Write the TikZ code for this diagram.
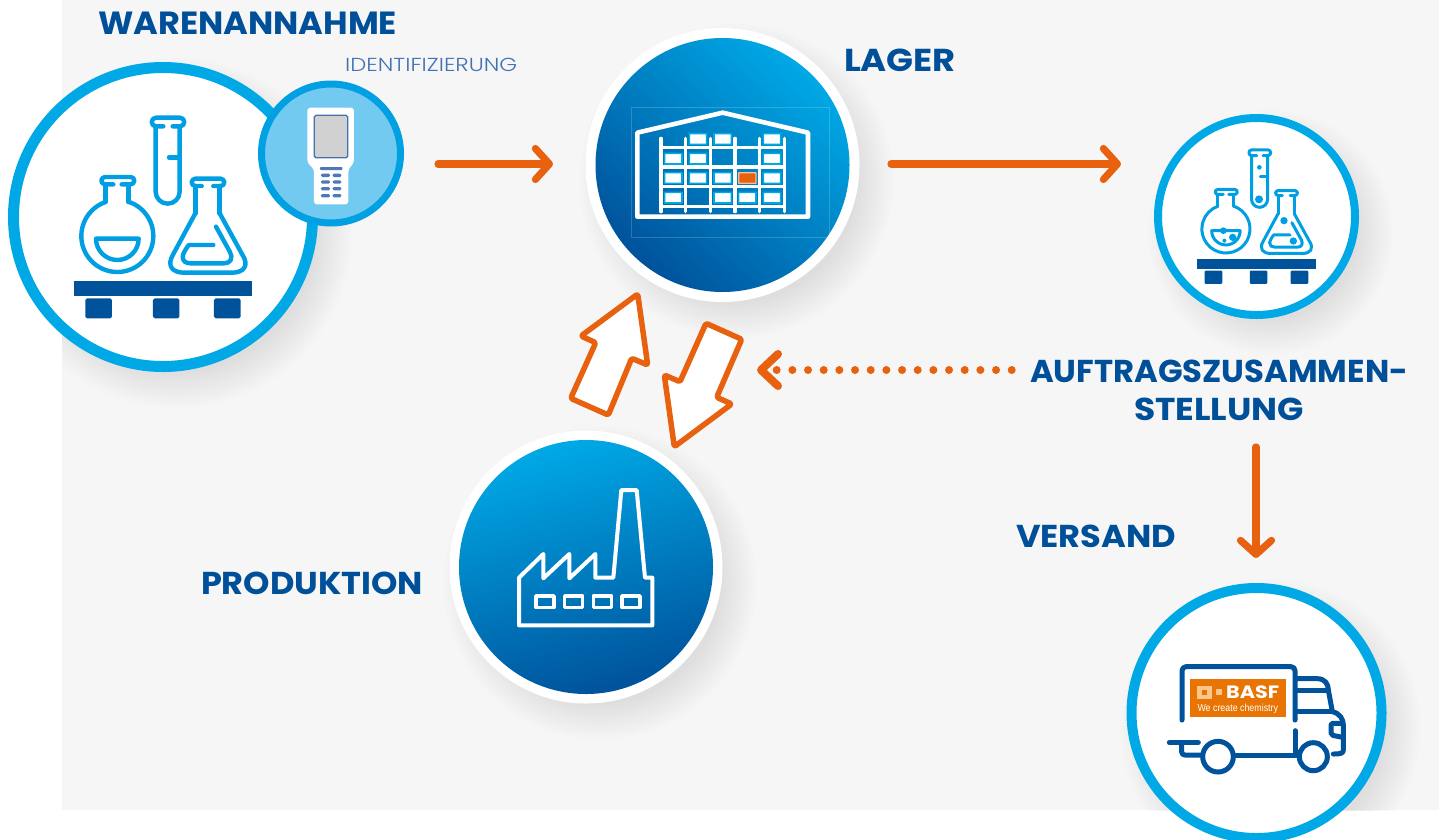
\documentclass[tikz,border=0pt]{standalone}
\usepackage{fontspec}
\usepackage{graphicx}
\usetikzlibrary{arrows.meta}
\setmainfont{Poppins}
\newfontfamily\plight{Poppins Light}
\newfontfamily\lsans{Liberation Sans}
\definecolor{bggray}{HTML}{F6F6F6}
\definecolor{ringblue}{HTML}{00A9E6}
\definecolor{iconblue}{HTML}{009FE3}
\definecolor{darkblue}{HTML}{00529B}
\definecolor{orangeA}{HTML}{E8610E}
\definecolor{textblue}{HTML}{004F99}
\definecolor{idblue}{HTML}{4272B4}
\definecolor{scanlight}{HTML}{72CAF0}
\definecolor{scanring}{HTML}{00A0E3}
\definecolor{scankey}{HTML}{4F78B8}
\definecolor{logoorange}{HTML}{E87503}
\definecolor{logolight}{HTML}{FBC68C}
\newcommand\blurshadow[3]{%
  \foreach \i in {0,...,11}{\fill[black,opacity=0.0085] (#1+14,#2+16) circle[radius=#3+20-3.2*\i];}}
\newcommand\flasks{%
  % test tube
  \draw[icon] (490,229) -- (468,229) arc[start angle=90,end angle=270,radius=13] -- (540,203) arc[start angle=-90,end angle=90,radius=13] -- (518,229);
  \draw[icon] (467,229) -- (467,425) arc[start angle=180,end angle=0,radius=36] -- (539,229);
  \draw[icon] (507,322) -- (539,322);
  % round flask
  \draw[icon] (340,403) -- (315,403) arc[start angle=90,end angle=270,radius=11] -- (392,381) arc[start angle=-90,end angle=90,radius=11] -- (365,403);
  \draw[icon] (316,403) -- (316,456);
  \draw[icon] (385,403) -- (385,456);
  \draw[icon] (352,558) ++(-72:108) arc[start angle=-72,end angle=250.5,radius=108];
  \draw[icon] (288,566) -- (416,566) arc[start angle=0,end angle=180,radius=64] -- cycle;
  % conical flask
  \draw[icon] (605,408) -- (586,408) arc[start angle=90,end angle=270,radius=11] -- (662,386) arc[start angle=-90,end angle=90,radius=11] -- (640,408);
  \draw[icon] (586,408) -- (586,490);
  \draw[icon] (659,408) -- (659,490);
  \draw[icon] (586,490) -- (520,612) .. controls (498,648) and (518,668) .. (552,668) -- (696,668) .. controls (730,668) and (750,648) .. (726,612) -- (659,490);
  \draw[icon] (640,585) -- (566,585) .. controls (556,600) and (549,610) .. (548,620) .. controls (548,634) and (558,640) .. (572,640) -- (672,640) .. controls (692,640) and (700,624) .. (690,606) -- (648,530);
  % pallet
  \fill[darkblue] (222,693) rectangle (756,738);
  \fill[darkblue,rounded corners=\fs*5pt] (256,745) rectangle (336,805);
  \fill[darkblue,rounded corners=\fs*5pt] (459,745) rectangle (538,805);
  \fill[darkblue,rounded corners=\fs*5pt] (642,745) rectangle (722,805);
}
\newcommand\shelfbox[3]{\draw[#3,rounded corners=0.3pt] (#1-26,#2-16) rectangle (#1+26,#2+16);}
\tikzset{
  icon/.style={draw=iconblue,line width=\flw pt,line cap=round,line join=round},
  ring/.style={circle,inner sep=0pt,outer sep=0pt,fill=white,draw=ringblue},
  rim/.style={circle,inner sep=0pt,outer sep=0pt,fill=white},
  disc/.style={circle,inner sep=0pt,outer sep=0pt,top color=#1,bottom color=darkblue},
  flowarrow/.style={draw=orangeA,line width=7.2pt,line cap=round,line join=round,-{Straight Barb[length=14pt,width=31pt,round]}},
  dotarrow/.style={draw=orangeA,line width=8pt,line cap=round,dash pattern=on 0pt off 15.667pt},
  barb/.style={draw=orangeA,line width=8pt,line cap=round,line join=round},
  blockarrow/.style={draw=orangeA,fill=white,line width=5.5pt,line join=round,rounded corners=1.5pt},
  lab/.style={inner sep=0pt,outer sep=0pt,text=textblue,font=\bfseries},
  wh/.style={draw=white,line join=round,line cap=round},
  truck/.style={draw=darkblue,line width=5pt,line cap=round,line join=round},
}
\begin{document}
\begin{tikzpicture}[x=1pt,y=1pt,yscale=-1]
\useasboundingbox (0,0) rectangle (1445,839);
\fill[bggray] (62,0) rectangle (1439,810);
\begin{scope}
  \clip (62,0) rectangle (1439,810);
  \blurshadow{163}{217}{155}
  \blurshadow{722.5}{165}{137}
  \blurshadow{1256.5}{216.5}{102.5}
  \blurshadow{586}{567}{136.5}
  \blurshadow{1256.5}{713}{130}
\end{scope}
% large flask circle
\node[ring,line width=11pt,minimum size=299pt] (wareCircle) at (163,217) {};
\def\fs{0.33333}\def\flw{4.4}
\begin{scope}[shift={(0,50)},scale=0.33333]\flasks\end{scope}
% scanner
\node[circle,inner sep=0pt,outer sep=0pt,fill=scanlight,draw=scanring,line width=7pt,minimum size=139pt] (scanCircle) at (331,153.5) {};
\begin{scope}[shift={(0,50)},scale=0.33333]
  \fill[white,rounded corners=3pt] (922,173) -- (1062,173) -- (1062,338) -- (1045,358) -- (1045,463) -- (942,463) -- (942,358) -- (922,338) -- cycle;
  \filldraw[fill=black!18,draw=idblue,line width=1.3pt,rounded corners=1.5pt] (943,196) rectangle (1043,323);
  \fill[scankey,rounded corners=0.8pt] (960,351) rectangle (1027,360);
  \foreach \yy in {376,396,416,437}{
    \fill[scankey,rounded corners=1.3pt] (963,\yy-5) rectangle (990,\yy+5);
    \fill[scankey,rounded corners=1.3pt] (998,\yy-5) rectangle (1024,\yy+5);}
\end{scope}
% Lager
\node[rim,minimum size=274pt] (lagerRim) at (722.5,165) {};
\node[disc=ringblue,shading angle=-42,minimum size=254pt] (lager) at (722.5,165) {};
\begin{scope}[shift={(580,30)},scale=0.33333]
  \draw[white,opacity=0.18,line width=0.6pt] (155,232) rectangle (748,622);
  \foreach \xx in {243,317,391,465,539,613}{\draw[wh,line width=3.2pt] (\xx,325) -- (\xx,545);}
  \foreach \yy in {352,411,470,529}{\draw[wh,line width=3.2pt] (243,\yy) -- (613,\yy);}
  \draw[wh,line width=4.6pt] (172,560) -- (172,308) -- (428,248) -- (684,308) -- (684,560) -- cycle;
  \foreach \xx/\yy in {354/327,428/327,576/327,280/386,354/386,576/386,280/444,354/444,428/444,576/444,280/503,428/503,502/503,576/503}{
    \shelfbox{\xx}{\yy}{fill=white,draw=ringblue,line width=1.6pt}}
  \shelfbox{502}{444}{fill=orangeA,draw=white!60!orangeA,line width=1.2pt}
\end{scope}
% right flask circle
\node[ring,line width=8pt,minimum size=197pt] (pickCircle) at (1256.5,216.5) {};
\def\fs{0.2228}\def\flw{3}
\begin{scope}[shift={(1147.5,104.6)},scale=0.2228]\flasks\end{scope}
\begin{scope}[shift={(1150,110)},scale=0.33333]
  \fill[iconblue] (328,172) circle[radius=7] (327,268) circle[radius=12] (220,362) circle[radius=10] (248,382) circle[radius=11] (223,392) circle[radius=6] (402,332) circle[radius=11] (430,393) circle[radius=11];
\end{scope}
% Produktion
\node[rim,minimum size=273pt] (prodRim) at (586,567) {};
\node[disc=ringblue,shading angle=15,minimum size=254pt] (prod) at (586,567) {};
\begin{scope}[shift={(450,280)},scale=0.33333]
  \draw[wh,line width=4pt] (207,1036) -- (207,893) -- (280,822) -- (280,895) -- (358,822) -- (358,895) -- (436,822) -- (436,893) -- (490,893) -- (514,630) -- (560,630) -- (585,893) -- (607,893) -- (607,1036) -- cycle;
  \foreach \xx in {258,344,430,516}{\draw[wh,line width=3.6pt] (\xx,948) rectangle (\xx+54,982);}
\end{scope}
% Truck circle
\node[ring,line width=10pt,minimum size=250pt] (truckCircle) at (1256.5,713) {};
\begin{scope}[shift={(1130,640)},scale=0.33333]
  \draw[truck,rounded corners=4pt] (156,240) -- (156,80) -- (495,80) -- (495,240);
  \draw[truck] (495,272) -- (495,340);
  \draw[truck] (500,116) -- (562,116) .. controls (585,116) and (595,132) .. (595,150) -- (607,215) .. controls (630,220) and (640,238) .. (640,255) -- (640,330) .. controls (640,340) and (632,342) .. (610,342);
  \draw[truck] (500,150) -- (595,150);
  \draw[truck] (500,215) -- (607,215);
  \draw[truck,rounded corners=2pt] (638,250) -- (603,250) -- (603,285) -- (638,292);
  \draw[truck] (118,308) -- (205,308);
  \draw[truck,rounded corners=3pt] (155,310) -- (155,345) -- (215,345);
  \draw[truck] (312,345) -- (503,345);
  \draw[truck] (264,350) circle[radius=46];
  \draw[truck] (550,350) circle[radius=42];
  \fill[logoorange] (180,117) rectangle (468,230);
  \fill[logolight] (202,137) rectangle (245,178);
  \fill[logoorange] (217,151) rectangle (232,165);
  \fill[logolight] (258,148) rectangle (276,165);
\end{scope}
\node[inner sep=0pt,anchor=base west,text=white] (basfWord) at (1226,698.5) {\bfseries\resizebox{53pt}{12.7pt}{BASF}};
\node[inner sep=0pt,anchor=base west,text=white] (basfClaim) at (1197.3,711) {\lsans\resizebox{80.5pt}{7.4pt}{We create chemistry}};
% labels
\node[lab,anchor=west] (lWare) at (98,23.5) {\resizebox{299pt}{22.5pt}{WARENANNAHME}};
\node[inner sep=0pt,anchor=west,text=idblue] (lId) at (345,64.5) {\plight\resizebox{172pt}{13.3pt}{IDENTIFIZIERUNG}};
\node[lab,anchor=west] (lLager) at (844,60.5) {\resizebox{112pt}{22.5pt}{LAGER}};
\node[lab,anchor=west] (lAuf1) at (1030,371) {\resizebox{378pt}{22.5pt}{AUFTRAGSZUSAMMEN-}};
\node[lab,anchor=west] (lAuf2) at (1134,409) {\resizebox{170pt}{22.5pt}{STELLUNG}};
\node[lab,anchor=west] (lVersand) at (1016,536) {\resizebox{160pt}{22.5pt}{VERSAND}};
\node[lab,anchor=west] (lProd) at (201,583.5) {\resizebox{222pt}{22.5pt}{PRODUKTION}};
% connectors
\coordinate (a1s) at (438,164); \coordinate (a1e) at (553,164);
\coordinate (a2s) at (891,164); \coordinate (a2e) at (1121,164);
\coordinate (a3s) at (1256,447); \coordinate (a3e) at (1256,558);
\coordinate (d1s) at (1011.7,370); \coordinate (d1e) at (775,370);
\coordinate (d1t) at (761,370); \coordinate (d1a) at (778,354); \coordinate (d1b) at (778,386);
\draw[flowarrow] (a1s) -- (a1e);
\draw[flowarrow] (a2s) -- (a2e);
\draw[flowarrow] (a3s) -- (a3e);
\draw[dotarrow] (d1s) -- (d1e);
\draw[barb] (d1a) -- (d1t) -- (d1b);
\draw[blockarrow] (637.7,294) -- (647.7,365) -- (631.7,358.3) -- (608.3,415) -- (570.7,398.3) -- (595.7,342.7) -- (581,336) -- cycle;
\draw[blockarrow] (706,323.3) -- (741.7,339.3) -- (716.7,397.3) -- (731.7,404) -- (674.3,446.7) -- (664.3,375) -- (680,381.7) -- cycle;
\end{tikzpicture}
\end{document}
